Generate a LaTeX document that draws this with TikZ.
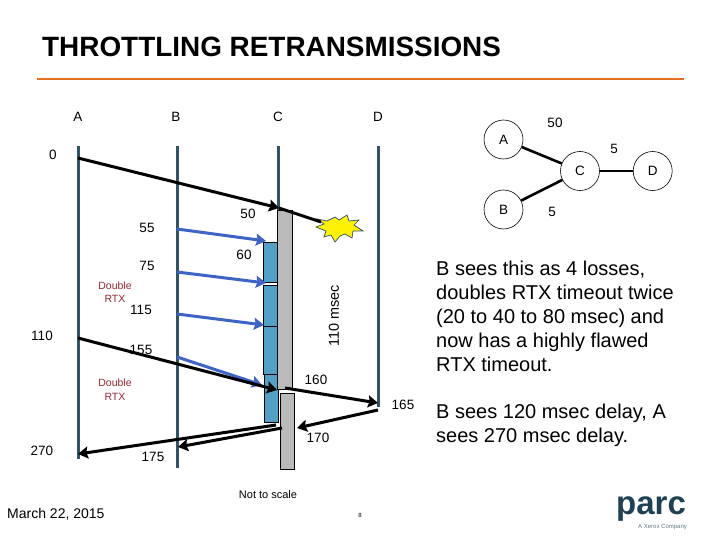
\documentclass[tikz,border=0pt]{standalone}
\usepackage{fontspec}
\setmainfont{Liberation Sans}
\usetikzlibrary{arrows.meta}
\definecolor{life}{RGB}{49,85,102}
\definecolor{bluearr}{RGB}{62,100,200}
\definecolor{boxblue}{RGB}{80,160,200}
\definecolor{rust}{RGB}{150,40,50}
\definecolor{orangeline}{RGB}{226,112,32}
\definecolor{parcc}{RGB}{30,65,85}
\tikzset{
  x=1pt,y=-1pt,
  lifeline/.style={draw=life,line width=3pt},
  msg/.style={draw=black,line width=3pt},
  msgarr/.style={msg,-{Stealth[length=10pt,width=12pt,inset=1.5pt]}},
  bluemsg/.style={draw=bluearr,line width=3pt,-{Stealth[length=10pt,width=12pt,inset=1.5pt]}},
  graybar/.style={draw=black,line width=.9pt,fill=black!27,anchor=north west,inner sep=0pt,minimum width=14pt},
  bluebar/.style={draw=black,line width=.9pt,fill=boxblue,anchor=north west,inner sep=0pt,minimum width=14pt},
  lbl/.style={font=\fontsize{13.5}{16}\selectfont,inner sep=0pt},
  red12/.style={font=\fontsize{10.5}{13.5}\selectfont,text=rust,align=center,inner sep=0pt},
  circ/.style={circle,draw=black,line width=.6pt,minimum size=39pt,inner sep=0pt,font=\fontsize{13.5}{16}\selectfont},
  link/.style={draw=black,line width=2.6pt},
  body/.style={font=\fontsize{20}{24}\selectfont,align=left,anchor=north west,inner sep=0pt}
}
\begin{document}
\begin{tikzpicture}
\useasboundingbox (0,0) rectangle (720,540);
\fill[white] (0,0) rectangle (720,540);
% title
\node[anchor=base west,inner sep=0pt,font=\fontsize{27.9}{30}\selectfont\bfseries] (title) at (42,57) {THROTTLING RETRANSMISSIONS};
\coordinate (ruleL) at (37,79); \coordinate (ruleR) at (684,79);
\draw[orangeline,line width=2.8pt] (ruleL) -- (ruleR);
% column labels
\node[lbl] (colA) at (78,117) {A};
\node[lbl] (colB) at (176,117) {B};
\node[lbl] (colC) at (278,117) {C};
\node[lbl] (colD) at (378,117) {D};
% lifelines
\coordinate (at) at (78,146); \coordinate (ab) at (78,459);
\coordinate (bt) at (177.5,146); \coordinate (bb) at (177.5,468);
\coordinate (ct) at (278,146); \coordinate (cb) at (278,210);
\coordinate (dt) at (378.5,146); \coordinate (db) at (378.5,407);
\draw[lifeline] (at) -- (ab);
\draw[lifeline] (bt) -- (bb);
\draw[lifeline] (ct) -- (cb);
\draw[lifeline] (dt) -- (db);
% bars
\node[bluebar,minimum height=40pt] (b1) at (263,242) {};
\node[bluebar,minimum height=41pt] (b2) at (263,285) {};
\node[bluebar,minimum height=48pt] (b3) at (263,326) {};
\node[bluebar,minimum height=48pt] (b4) at (263.5,374) {};
\node[graybar,minimum height=179pt,minimum width=14.5pt] (g1) at (277,210) {};
\node[graybar,minimum height=76pt] (g2) at (279.5,392.5) {};
% burst
\filldraw[draw=life,fill=yellow,line width=.7pt] (317,219) -- (327,221) -- (335,217) -- (339,220) -- (347,215) -- (349,221) -- (359,220) -- (354,225) -- (363,231) -- (353,231) -- (352,238) -- (345,234) -- (340,236) -- (335,242) -- (331,235) -- (324,237) -- (326,231) -- (316,227) -- (324,224) -- cycle;
% messages
\coordinate (m0) at (78,158); \coordinate (mc) at (279,208); \coordinate (m1) at (321,222);
\draw[msgarr] (m0) -- (mc);
\draw[msg] (mc) -- (m1);
\coordinate (s1) at (177,229); \coordinate (e1) at (266,241);
\coordinate (s2) at (177,272); \coordinate (e2) at (266,283);
\coordinate (s3) at (177,314); \coordinate (e3) at (264,325);
\coordinate (s4) at (177,357); \coordinate (e4) at (262,385);
\draw[bluemsg] (s1) -- (e1);
\draw[bluemsg] (s2) -- (e2);
\draw[bluemsg] (s3) -- (e3);
\draw[bluemsg] (s4) -- (e4);
\coordinate (r0) at (78,338); \coordinate (r1) at (277,390);
\coordinate (r2) at (285,388); \coordinate (r3) at (378,403);
\coordinate (r4) at (378,410); \coordinate (r5) at (297,428);
\coordinate (r6) at (276,425); \coordinate (r7) at (78,454);
\coordinate (r8) at (282,428); \coordinate (r9) at (178,447);
\draw[msgarr] (r0) -- (r1);
\draw[msgarr] (r2) -- (r3);
\draw[msgarr] (r4) -- (r5);
\draw[msgarr] (r6) -- (r7);
\draw[msgarr] (r8) -- (r9);
% numbers
\node[lbl] (n0) at (53,155) {0};
\node[lbl] (n50) at (248,214) {50};
\node[lbl] (n55) at (147,228) {55};
\node[lbl] (n60) at (244,255) {60};
\node[lbl] (n75) at (147,266) {75};
\node[lbl] (n115) at (141,310) {115};
\node[lbl] (n110) at (42,336) {110};
\node[lbl] (n155) at (141,350) {155};
\node[lbl] (n160) at (316,380) {160};
\node[lbl] (n165) at (403,405) {165};
\node[lbl] (n170) at (318,438) {170};
\node[lbl] (n175) at (153,457) {175};
\node[lbl] (n270) at (42,451) {270};
\node[inner sep=0pt,font=\fontsize{14.4}{16}\selectfont,rotate=90] (msec) at (334,316) {110 msec};
\node[red12] (dr1) at (115,292) {Double\\RTX};
\node[red12] (dr2) at (115,389.5) {Double\\RTX};
\node[inner sep=0pt,font=\fontsize{11}{13}\selectfont] (ns) at (268,495) {Not to scale};
\node[anchor=base west,inner sep=0pt,font=\fontsize{14}{16}\selectfont] (date) at (7,518) {March 22, 2015};
\node[inner sep=0pt,font=\fontsize{6}{7}\selectfont] (pg) at (360,515) {8};
% small graph
\node[circ] (A) at (503.5,139.5) {A};
\node[circ] (B) at (503.5,209.5) {B};
\node[circ] (C) at (580,171) {C};
\node[circ] (D) at (652.7,171) {D};
\draw[link] (A) -- (C);
\draw[link] (B) -- (C);
\draw[link] (C) -- (D);
\node[lbl] (g50) at (555,123) {50};
\node[lbl] (g5a) at (614,149) {5};
\node[lbl] (g5b) at (552,212) {5};
% text
\node[body] (t1) at (436,261) {B sees this as 4 losses,\\doubles RTX timeout twice\\(20 to 40 to 80 msec) and\\now has a highly flawed\\RTX timeout.};
\node[body] (t2) at (436,404) {B sees 120 msec delay, A\\sees 270 msec delay.};
% logo
\node[anchor=base west,inner sep=0pt,text=parcc,font=\fontsize{33}{36}\selectfont\bfseries] (logo) at (616,514) {parc};
\node[anchor=base west,inner sep=0pt,text=parcc!70,font=\fontsize{6}{7}\selectfont] (logo2) at (638,528) {A Xerox Company};
\end{tikzpicture}
\end{document}
